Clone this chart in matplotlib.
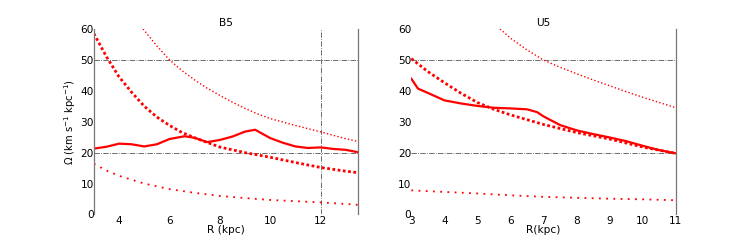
import matplotlib.pyplot as plt
import numpy as np

# ---- B5 panel data ----
b5_r_solid = [3, 3.5, 4, 4.5, 5, 5.5, 6, 6.6, 7, 7.5, 8, 8.5, 9, 9.4, 10, 10.5, 11, 11.5, 12, 12.5, 13, 13.5]
b5_solid = [21.3, 21.9, 22.9, 22.7, 22.0, 22.7, 24.4, 25.3, 24.8, 23.4, 24.1, 25.2, 26.8, 27.4, 24.7, 23.2, 22.0, 21.5, 21.7, 21.2, 20.9, 20.1]

b5_r_omega = [3, 3.5, 4, 4.5, 5, 5.5, 6, 6.5, 7, 7.5, 8, 9, 10, 11, 12, 13, 13.5]
b5_omega = [58.5, 51.0, 44.5, 39.5, 35.0, 31.5, 28.8, 26.5, 24.8, 23.3, 21.8, 20.0, 18.5, 16.8, 15.2, 14.0, 13.5]

b5_r_upper = [4.95, 5.5, 6, 6.5, 7, 7.5, 8, 8.5, 9, 9.5, 10, 11, 12, 13, 13.5]
b5_upper = [60.0, 54.5, 50.0, 46.5, 43.5, 40.8, 38.5, 36.3, 34.3, 32.5, 31.0, 28.8, 26.7, 24.5, 23.6]

b5_r_lower = [3, 3.5, 4, 5, 6, 7, 8, 9, 10, 11, 12, 13, 13.5]
b5_lower = [16.4, 14.2, 12.5, 10.0, 8.2, 7.0, 6.0, 5.3, 4.7, 4.3, 3.9, 3.4, 3.1]

# ---- U5 panel data ----
u5_r_solid = [3, 3.2, 3.5, 4, 4.5, 5, 5.5, 6, 6.5, 6.8, 7, 7.5, 8, 8.5, 9, 9.5, 10, 10.5, 11]
u5_solid = [43.9, 40.7, 39.3, 36.9, 35.9, 35.1, 34.5, 34.3, 34.0, 33.1, 31.7, 28.9, 27.2, 26.0, 24.9, 23.7, 22.2, 20.8, 19.75]

u5_r_omega = [3, 3.5, 4, 4.5, 5, 5.5, 6, 7, 8, 9, 10, 11]
u5_omega = [50.4, 46.2, 42.6, 39.2, 36.2, 34.0, 32.2, 29.1, 26.5, 24.4, 21.8, 19.75]

u5_r_upper = [5.68, 6, 6.5, 7, 7.5, 8, 8.5, 9, 9.5, 10, 10.5, 11]
u5_upper = [60.0, 57.0, 53.2, 49.9, 47.6, 45.5, 43.5, 41.6, 39.7, 37.9, 36.2, 34.5]

u5_r_lower = [3, 4, 5, 6, 7, 8, 9, 10, 11]
u5_lower = [7.8, 7.3, 6.8, 6.2, 5.7, 5.4, 5.1, 4.9, 4.6]

RED = '#ff0000'
GRID = dict(color='#555555', linestyle='-.', linewidth=0.6)
FS = 7.6

THICK = dict(color=RED, lw=2.0, linestyle=(0, (1.0, 0.9)), dash_capstyle='butt')
THIN = dict(color=RED, lw=1.0, linestyle=(0, (1.0, 1.6)), dash_capstyle='butt')
THIN_LOW = dict(color=RED, lw=1.3, linestyle=(0, (1.0, 3.0)), dash_capstyle='butt')

fig, (ax1, ax2) = plt.subplots(1, 2, figsize=(7.51, 2.41), dpi=100)


def style(ax, xlim, xticks, left_spine=True):
    ax.set_xlim(*xlim)
    ax.set_ylim(0, 60)
    ax.set_xticks(xticks)
    ax.set_yticks(range(0, 61, 10))
    ax.tick_params(axis='y', length=0, labelsize=FS, pad=0)
    ax.tick_params(axis='x', length=0, labelsize=FS, pad=1)
    ax.spines['top'].set_visible(False)
    ax.spines['bottom'].set_visible(False)
    ax.spines['left'].set_visible(left_spine)
    for s in ('left', 'right'):
        ax.spines[s].set_color('#777777')
        ax.spines[s].set_linewidth(0.9)
    ax.axhline(20, **GRID, zorder=0)
    ax.axhline(50, **GRID, zorder=0)


# B5
ax1.plot(b5_r_upper, b5_upper, **THIN)
ax1.plot(b5_r_omega, b5_omega, **THICK)
ax1.plot(b5_r_lower, b5_lower, **THIN_LOW)
ax1.plot(b5_r_solid, b5_solid, '-', color=RED, lw=1.6)
style(ax1, (3, 13.5), [4, 6, 8, 10, 12])
ax1.axvline(12, **GRID, zorder=0)
ax1.set_title('B5', fontsize=FS, pad=2)
ax1.set_xlabel('R (kpc)', fontsize=FS, labelpad=-0.5)
ax1.set_ylabel(r'$\Omega$ (km s$^{-1}$ kpc$^{-1}$)', fontsize=7.2, labelpad=2)

# U5
ax2.plot(u5_r_upper, u5_upper, **THIN)
ax2.plot(u5_r_omega, u5_omega, **THICK)
ax2.plot(u5_r_lower, u5_lower, **THIN_LOW)
ax2.plot(u5_r_solid, u5_solid, '-', color=RED, lw=1.6)
style(ax2, (3, 11), list(range(3, 12)), left_spine=False)
ax2.set_title('U5', fontsize=FS, pad=2)
ax2.set_xlabel('R(kpc)', fontsize=FS, labelpad=-0.5)

plt.savefig('out.png', dpi=100)
